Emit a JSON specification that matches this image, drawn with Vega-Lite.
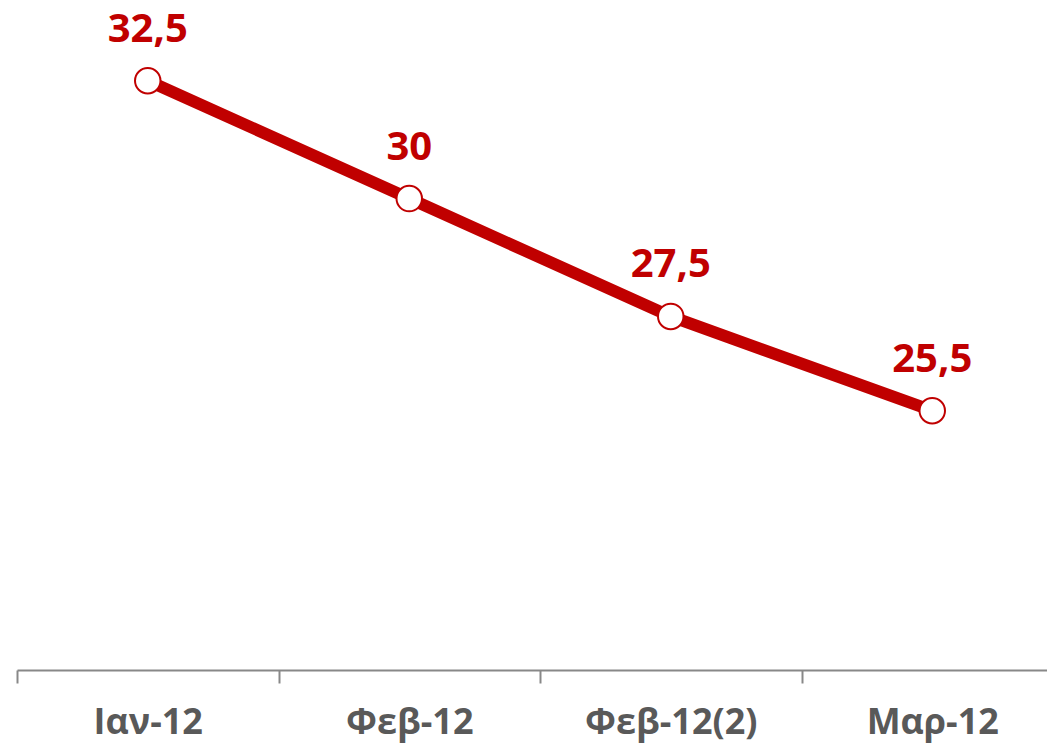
{
  "$schema": "https://vega.github.io/schema/vega-lite/v6.json",
  "width": 1030,
  "height": 660,
  "autosize": {"type": "none"},
  "padding": {"left": 17, "top": 10, "right": 0, "bottom": 77},
  "background": "white",
  "config": {"view": {"stroke": null}},
  "data": {
    "values": [
      {"month": "Ιαν-12", "value": 32.5, "label": "32,5"},
      {"month": "Φεβ-12", "value": 30, "label": "30"},
      {"month": "Φεβ-12(2)", "value": 27.5, "label": "27,5"},
      {"month": "Μαρ-12", "value": 25.5, "label": "25,5"}
    ]
  },
  "encoding": {
    "x": {
      "field": "month",
      "type": "ordinal",
      "sort": null,
      "bandPosition": 0.5,
      "scale": {"type": "band", "range": [0, 1046], "paddingInner": 0, "paddingOuter": 0},
      "axis": {
        "title": null,
        "labelAngle": 0,
        "tickBand": "extent",
        "labelFont": "Open Sans",
        "labelFontWeight": "bold",
        "labelFontSize": 36,
        "labelColor": "#595959",
        "labelPadding": 22,
        "domainColor": "#888888",
        "domainWidth": 2,
        "tickColor": "#888888",
        "tickWidth": 2,
        "tickSize": 13,
        "grid": false
      }
    },
    "y": {
      "field": "value",
      "type": "quantitative",
      "scale": {"domain": [20, 34], "zero": false, "nice": false},
      "axis": null
    }
  },
  "layer": [
    {"mark": {"type": "line", "color": "#C00000", "strokeWidth": 12}},
    {"mark": {"type": "point", "shape": "circle", "filled": true, "fill": "white", "stroke": "#C00000", "strokeWidth": 2, "size": 650, "opacity": 1}},
    {
      "mark": {"type": "text", "font": "Open Sans", "fontWeight": "bold", "fontSize": 40, "color": "#C00000", "baseline": "alphabetic", "dy": -39},
      "encoding": {"text": {"field": "label"}}
    }
  ]
}
